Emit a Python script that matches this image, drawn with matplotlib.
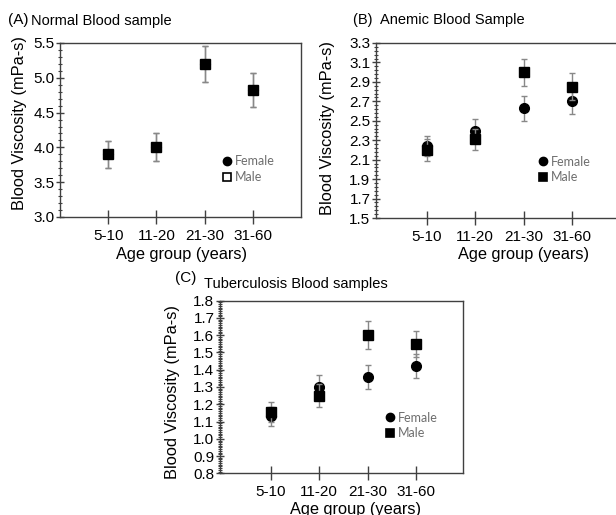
import numpy as np
import matplotlib
matplotlib.use('Agg')
import matplotlib.pyplot as plt
from matplotlib.lines import Line2D

plt.rcParams['font.family'] = ['Liberation Sans', 'DejaVu Sans']

groups = ['5-10', '11-20', '21-30', '31-60']

# (A) normal blood
normal_female = [3.90, 4.00, 5.20, 4.83]
normal_female_err = [0.19, 0.20, 0.26, 0.245]
normal_male = [3.90, 4.00, 5.20, 4.83]
normal_male_err = [0.19, 0.20, 0.26, 0.245]

# (B) anemic blood
anemic_female = [2.24, 2.40, 2.63, 2.70]
anemic_female_err = [0.10, 0.12, 0.13, 0.13]
anemic_male = [2.20, 2.31, 3.00, 2.85]
anemic_male_err = [0.11, 0.11, 0.14, 0.14]

# (C) tuberculosis blood
tb_female = [1.13, 1.30, 1.36, 1.42]
tb_female_err = [0.055, 0.07, 0.07, 0.07]
tb_male = [1.155, 1.25, 1.60, 1.55]
tb_male_err = [0.06, 0.065, 0.08, 0.075]

x = np.arange(1, len(groups) + 1)
W, H = 616, 515
fig = plt.figure(figsize=(W / 100, H / 100), dpi=100)


def px_axes(left, right, top, bottom):
    return fig.add_axes([left / W, 1 - bottom / H, (right - left) / W, (bottom - top) / H])


def panel(ax, fem, fem_err, male, male_err, ylim, major, minor, xlim, open_male_legend, leg_xy):
    ax.errorbar(x, fem, yerr=fem_err, fmt='o', color='black', ms=7,
                ecolor='#888888', elinewidth=1, capsize=2, capthick=1, zorder=3)
    ax.errorbar(x, male, yerr=male_err, fmt='s', color='black', ms=7,
                ecolor='#888888', elinewidth=1, capsize=2, capthick=1, zorder=4)
    ax.set_xlim(*xlim)
    ax.set_ylim(*ylim)
    ax.set_xticks(x)
    ax.set_xticklabels(groups)
    yt = np.arange(ylim[0], ylim[1] + major / 2, major)
    ax.set_yticks(yt)
    ax.set_yticklabels(['%.1f' % v for v in yt])
    ax.set_yticks(np.arange(ylim[0], ylim[1] + minor / 2, minor), minor=True)
    ax.set_ylim(*ylim)
    for s in ax.spines.values():
        s.set_color('#404040')
        s.set_linewidth(1.0)
    ax.tick_params(axis='x', direction='inout', length=10, width=1, color='#404040',
                   labelsize=11, pad=3.5)
    ax.tick_params(axis='y', which='major', direction='inout', length=6, width=1,
                   color='#404040', labelsize=11, pad=1)
    ax.tick_params(axis='y', which='minor', direction='inout', length=3, width=0.8,
                   color='#404040')
    ax.tick_params(top=False, right=False, which='both')

    male_face = 'white' if open_male_legend else 'black'
    handles = [Line2D([], [], marker='o', ls='none', color='black', ms=6),
               Line2D([], [], marker='s', ls='none', mfc=male_face, mec='black',
                      mew=1.2, ms=6)]
    leg = ax.legend(handles, ['Female', 'Male'], loc='center left',
                    bbox_to_anchor=leg_xy, frameon=False, handlelength=0.7,
                    handletextpad=0.25, borderpad=0, borderaxespad=0,
                    labelspacing=0.3, prop={'family': 'Lato', 'size': 9})
    for t in leg.get_texts():
        t.set_color('#6e6e6e')


axA = px_axes(60, 301, 43, 217)
panel(axA, normal_female, normal_female_err, normal_male, normal_male_err,
      (3.0, 5.5), 0.5, 0.1, (0, 5), True, (0.675, 0.275))

axB = px_axes(376, 617.5, 43, 218)
panel(axB, anemic_female, anemic_female_err, anemic_male, anemic_male_err,
      (1.5, 3.3), 0.2, 0.04, (-0.056, 4.944), False, (0.675, 0.277))

axC = px_axes(220, 463, 300.7, 473.3)
panel(axC, tb_female, tb_female_err, tb_male, tb_male_err,
      (0.8, 1.8), 0.1, 0.01, (-0.056, 4.975), False, (0.683, 0.277))

# titles
fig.text(8 / W, 1 - 20 / H, '(A)', fontsize=11, va='center')
fig.text(31 / W, 1 - 21 / H, 'Normal Blood sample', fontsize=10.5, va='center')
fig.text(353 / W, 1 - 20 / H, '(B)  Anemic Blood Sample', fontsize=10.5, va='center')
fig.text(175 / W, 1 - 278 / H, '(C)', fontsize=11, va='center')
fig.text(204 / W, 1 - 284 / H, 'Tuberculosis Blood samples', fontsize=10.5, va='center')

# axis labels
for cx, cy in [(20, 123), (327, 128), (173, 392)]:
    fig.text(cx / W, 1 - cy / H, 'Blood Viscosity (mPa-s)', rotation=90,
             fontsize=11.8, ha='center', va='center')
for cx, by in [(182, 259), (524, 259), (355, 514)]:
    fig.text(cx / W, 1 - by / H, 'Age group (years)', fontsize=11.8,
             ha='center', va='baseline')

fig.savefig('out.png', dpi=100)
